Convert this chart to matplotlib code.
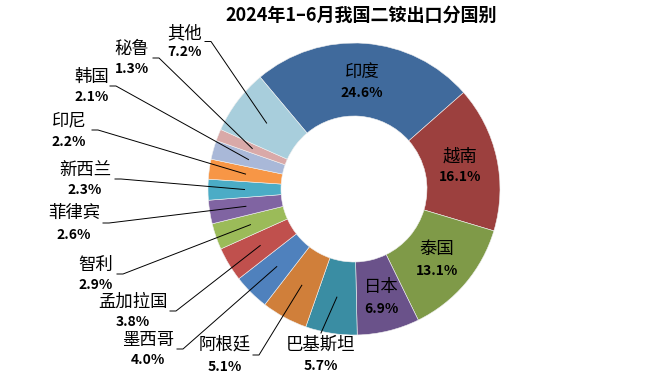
import numpy as np
import matplotlib
matplotlib.use('Agg')
import matplotlib.pyplot as plt

plt.rcParams['font.family'] = ['Noto Sans CJK SC', 'DejaVu Sans']

countries = ['印度', '越南', '泰国', '日本', '巴基斯坦', '阿根廷', '墨西哥',
             '孟加拉国', '智利', '菲律宾', '新西兰', '印尼', '韩国', '秘鲁', '其他']
shares = [24.6, 16.1, 13.1, 6.9, 5.7, 5.1, 4.0, 3.8, 2.9, 2.6, 2.3, 2.2,
          2.1, 1.3, 7.2]
colors = ['#406a9c', '#9c403e', '#7f9a48', '#6a528a', '#3a8da3', '#d07f3a',
          '#4f81bd', '#c0504d', '#9bbb59', '#8064a2', '#4bacc6', '#f79646',
          '#a9b8d8', '#d9a9a8', '#a8cedc']

W, H = 659, 378
CX, CY, R = 354, 189, 146

# label layout in pixels (top-left origin): name x, name y, pct y, hook x
inside = {'印度': (362, 72, 93), '越南': (460, 157, 177),
          '泰国': (437, 249, 271), '日本': (381, 287, 309)}
outside = {'巴基斯坦': (321, 345, 366, None),
           '阿根廷': (225, 345, 367, 253),
           '墨西哥': (148, 340, 360, 177),
           '孟加拉国': (133, 302, 322, 170),
           '智利': (96, 265, 285, 117),
           '菲律宾': (74, 213, 235, 103),
           '新西兰': (85, 170, 190, 115),
           '印尼': (69, 120, 142, 92),
           '韩国': (92, 77, 97, 110),
           '秘鲁': (132, 49, 69, 153),
           '其他': (185, 33, 52, 205)}

fig = plt.figure(figsize=(W / 100, H / 100), dpi=100)
ax = fig.add_axes([0, 0, 1, 1])
wedges, _ = ax.pie(shares, colors=colors, startangle=130, counterclock=False,
                   radius=R, center=(CX, H - CY),
                   wedgeprops=dict(width=R * 0.5, edgecolor='#f0f0f0',
                                   linewidth=0.4))
ax.set_xlim(0, W)
ax.set_ylim(0, H)
ax.set_aspect('equal')
ax.axis('off')

ax.text(361, H - 15, '2024年1–6月我国二铵出口分国别', ha='center',
        va='center', fontsize=13, fontweight='bold')

for w, name, val in zip(wedges, countries, shares):
    pct = f'{val:.1f}%'
    if name in inside:
        x, yn, yp = inside[name]
        ax.text(x, H - yn, name, ha='center', va='center', fontsize=12.5)
        ax.text(x, H - yp, pct, ha='center', va='center', fontsize=10,
                fontweight='bold')
        continue
    x, yn, yp, hx = outside[name]
    ax.text(x, H - yn, name, ha='center', va='center', fontsize=12.5)
    ax.text(x, H - yp, pct, ha='center', va='center', fontsize=10,
            fontweight='bold')
    mid = np.deg2rad((w.theta1 + w.theta2) / 2)
    px = CX + 0.75 * R * np.cos(mid)
    py = (H - CY) + 0.75 * R * np.sin(mid)
    if hx is None:
        xs, ys = [x, px], [H - yn + 12, py]
    else:
        hy = H - (yn + yp) / 2 + 1
        xs, ys = [hx, hx + 6, px], [hy, hy, py]
    ax.plot(xs, ys, color='black', linewidth=0.7)

fig.savefig('out.png', dpi=100)
